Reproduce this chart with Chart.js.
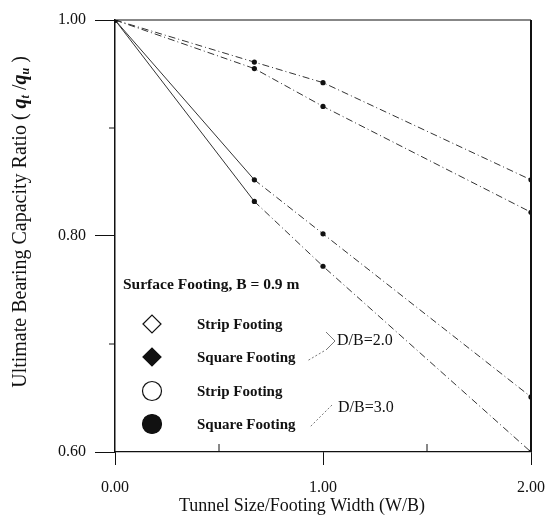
<!DOCTYPE html>
<html>
<head>
<meta charset="utf-8">
<script src="https://cdn.jsdelivr.net/npm/chart.js@4.4.1/dist/chart.umd.min.js"></script>
<style>
    html, body { margin: 0; padding: 0; background: #fff; }
    #wrap { width: 558px; height: 517px; }
</style>
</head>
<body>
<div id="wrap"><canvas id="capacityChart" width="558" height="517"></canvas></div>
<script>
// W/B values where the tests were run
const widthRatio = [0, 0.67, 1, 2];

// q_t/q_u for each footing / tunnel depth
const squareDB3 = [1, 0.961, 0.942, 0.852];
const stripDB3 = [1, 0.955, 0.920, 0.822];
const squareDB2 = [1, 0.852, 0.802, 0.651];
const stripDB2 = [1, 0.832, 0.772, 0.600];

const xMajorTicks = [0, 1, 2];
const xMinorTicks = [0.5, 1.5];
const yMajorTicks = [0.6, 0.8, 1.0];
const yMinorTicks = [0.7, 0.9];

const legendTitle = 'Surface Footing, B = 0.9 m';
const legendItems = ['Strip Footing', 'Square Footing', 'Strip Footing', 'Square Footing'];
const groupLabels = ['D/B=2.0', 'D/B=3.0'];

const serif = '"Liberation Serif", "DejaVu Serif", serif';
const ink = '#111';

function toPoints(ys) {
    return widthRatio.map((x, i) => ({ x: x, y: ys[i] }));
}

function isOn(list, v) {
    return list.some((t) => Math.abs(t - v) < 1e-6);
}

// first stretch solid, the rest dash-dot
const lowerSegment = {
    borderDash: (ctx) => ctx.p0DataIndex === 0 ? [] : [7, 3, 1, 3]
};

function series(label, ys, dash, segment) {
    return {
        label: label,
        data: toPoints(ys),
        borderColor: '#333',
        borderWidth: 1,
        borderDash: dash,
        segment: segment,
        pointRadius: 2.6,
        pointBackgroundColor: ink,
        pointBorderColor: ink,
        pointBorderWidth: 0,
        tension: 0,
        fill: false
    };
}

// frame, inner minor ticks, axis titles and the key
const decorations = {
    id: 'decorations',
    afterDraw(chart) {
        const ctx = chart.ctx;
        const area = chart.chartArea;
        const xs = chart.scales.x;
        const ys = chart.scales.y;

        ctx.save();
        ctx.strokeStyle = ink;

        // top and right edges of the box
        ctx.lineWidth = 1.2;
        ctx.beginPath();
        ctx.moveTo(area.left, area.top);
        ctx.lineTo(area.right, area.top);
        ctx.stroke();
        ctx.lineWidth = 2;
        ctx.beginPath();
        ctx.moveTo(area.right, area.top);
        ctx.lineTo(area.right, area.bottom);
        ctx.stroke();

        ctx.lineWidth = 1;
        for (const v of xMinorTicks) {
            const px = xs.getPixelForValue(v);
            ctx.beginPath();
            ctx.moveTo(px, area.bottom);
            ctx.lineTo(px, area.bottom - 8);
            ctx.stroke();
        }
        for (const v of yMinorTicks) {
            const py = ys.getPixelForValue(v);
            ctx.beginPath();
            ctx.moveTo(area.left, py);
            ctx.lineTo(area.left - 6, py);
            ctx.stroke();
        }

        // x title
        ctx.fillStyle = ink;
        ctx.font = '18px ' + serif;
        ctx.textAlign = 'center';
        ctx.textBaseline = 'middle';
        ctx.fillText('Tunnel Size/Footing Width (W/B)', 302, 506);

        // y title with subscripts
        ctx.translate(21, 222);
        ctx.rotate(-Math.PI / 2);
        const parts = [
            { t: 'Ultimate Bearing Capacity Ratio ( ', f: '20px ' + serif, dy: 0 },
            { t: 'q', f: 'italic bold 20px ' + serif, dy: 0 },
            { t: 't', f: 'italic bold 12px ' + serif, dy: 5 },
            { t: ' /', f: '20px ' + serif, dy: 0 },
            { t: 'q', f: 'italic bold 20px ' + serif, dy: 0 },
            { t: 'u', f: 'italic bold 12px ' + serif, dy: 5 },
            { t: ' )', f: '20px ' + serif, dy: 0 }
        ];
        let total = 0;
        for (const p of parts) {
            ctx.font = p.f;
            total += ctx.measureText(p.t).width;
        }
        let cx = -total / 2;
        ctx.textAlign = 'left';
        for (const p of parts) {
            ctx.font = p.f;
            ctx.fillText(p.t, cx, p.dy);
            cx += ctx.measureText(p.t).width;
        }
        ctx.setTransform(1, 0, 0, 1, 0, 0);

        // key
        ctx.fillStyle = ink;
        ctx.textAlign = 'left';
        ctx.textBaseline = 'middle';
        ctx.font = 'bold 15.5px ' + serif;
        ctx.fillText(legendTitle, 123, 285);

        const rowY = [324, 357, 391, 424];
        const styles = [
            { shape: 'rectRot', fill: false },
            { shape: 'rectRot', fill: true },
            { shape: 'circle', fill: false },
            { shape: 'circle', fill: true }
        ];
        ctx.lineWidth = 1.2;
        styles.forEach((s, i) => {
            ctx.fillStyle = s.fill ? ink : '#fff';
            ctx.strokeStyle = ink;
            Chart.helpers.drawPoint(ctx, {
                pointStyle: s.shape,
                radius: s.shape === 'circle' ? 9.5 : 9,
                borderWidth: 1.2
            }, 152, rowY[i]);
            if (s.fill) ctx.fill();
            ctx.fillStyle = ink;
            ctx.font = 'bold 15px ' + serif;
            ctx.fillText(legendItems[i], 197, rowY[i] + 1);
        });

        // group brackets
        ctx.strokeStyle = '#555';
        ctx.lineWidth = 0.8;
        ctx.beginPath();
        ctx.moveTo(326, 332);
        ctx.lineTo(335, 341);
        ctx.lineTo(326, 350);
        ctx.stroke();
        ctx.setLineDash([2, 2]);
        ctx.beginPath();
        ctx.moveTo(324, 351);
        ctx.lineTo(307, 361);
        ctx.stroke();
        ctx.beginPath();
        ctx.moveTo(332, 405);
        ctx.lineTo(310, 427);
        ctx.stroke();
        ctx.setLineDash([]);

        ctx.fillStyle = ink;
        ctx.font = '16px ' + serif;
        ctx.fillText(groupLabels[0], 337, 341);
        ctx.fillText(groupLabels[1], 338, 408);

        ctx.restore();
    }
};

new Chart(document.getElementById('capacityChart'), {
    type: 'line',
    data: {
        datasets: [
            series('Square, D/B=3.0', squareDB3, [7, 3, 1, 3]),
            series('Strip, D/B=3.0', stripDB3, [7, 3, 1, 3]),
            series('Square, D/B=2.0', squareDB2, [], lowerSegment),
            series('Strip, D/B=2.0', stripDB2, [], lowerSegment)
        ]
    },
    options: {
        responsive: false,
        animation: false,
        layout: { padding: { left: 0, right: 18, top: 20, bottom: 0 } },
        plugins: {
            legend: { display: false },
            tooltip: { enabled: false }
        },
        scales: {
            x: {
                type: 'linear',
                min: 0,
                max: 2,
                afterFit: (scale) => { scale.height = 65; },
                ticks: {
                    stepSize: 0.5,
                    padding: 13,
                    color: ink,
                    font: { family: serif, size: 16 },
                    maxRotation: 0,
                    callback: (v) => isOn(xMajorTicks, v) ? v.toFixed(2) : ''
                },
                grid: {
                    drawOnChartArea: false,
                    tickLength: 13,
                    tickWidth: 1,
                    tickColor: (ctx) => isOn(xMajorTicks, ctx.tick.value) ? ink : 'rgba(0,0,0,0)'
                },
                border: { color: ink, width: 1.2 }
            },
            y: {
                min: 0.6,
                max: 1.0,
                afterFit: (scale) => { scale.width = 115; },
                ticks: {
                    stepSize: 0.1,
                    padding: 9,
                    color: ink,
                    font: { family: serif, size: 16 },
                    callback: (v) => isOn(yMajorTicks, v) ? v.toFixed(2) : ''
                },
                grid: {
                    drawOnChartArea: false,
                    tickLength: 20,
                    tickWidth: 1,
                    tickColor: (ctx) => isOn(yMajorTicks, ctx.tick.value) ? ink : 'rgba(0,0,0,0)'
                },
                border: { color: ink, width: 1.5 }
            }
        }
    },
    plugins: [decorations]
});
</script>
</body>
</html>
